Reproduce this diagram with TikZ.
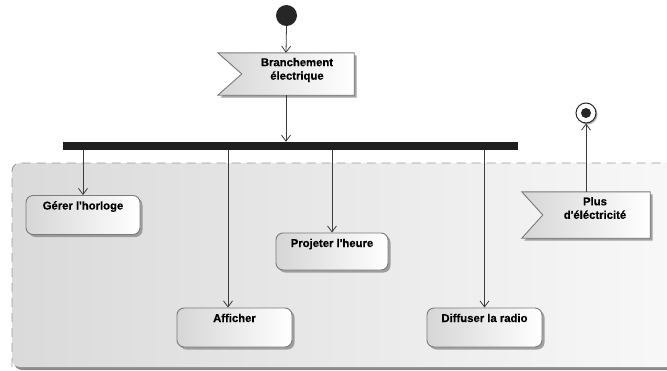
\documentclass[tikz,border=0pt]{standalone}
\usepackage{fontspec}
\setmainfont{Liberation Sans}[Ligatures=TeXOff, BoldFeatures={FakeBold=0.5}]
\usetikzlibrary{arrows.meta,shadows,calc}
\definecolor{edgegray}{HTML}{7A7A7A}
\definecolor{linegray}{HTML}{3C3C3C}
\definecolor{boxleft}{HTML}{D6D6D6}
\definecolor{regleft}{HTML}{DADADA}
\definecolor{regright}{HTML}{F9F9F9}
\definecolor{shadowgray}{HTML}{8C8C8C}
\tikzset{
  lbl/.style={font=\fontsize{11.3}{13.5}\selectfont\bfseries},
  actionbox/.style={draw=edgegray, line width=0.9pt, rounded corners=7pt,
    left color=boxleft, right color=white, inner sep=0pt,
    lbl, text height=14pt, text depth=25pt,
    drop shadow={shadow xshift=2.5pt, shadow yshift=-2.5pt, fill=shadowgray, opacity=0.8}},
  sigframe/.style={inner sep=0pt, draw=none},
  sigshape/.style={draw=edgegray, line width=0.9pt,
    left color=boxleft, right color=white,
    drop shadow={shadow xshift=2.5pt, shadow yshift=-2.5pt, fill=shadowgray, opacity=0.8}},
  sigtext/.style={lbl, align=center, inner sep=0pt},
  flow/.style={draw=linegray, line width=0.8pt, -{Straight Barb[length=6pt,width=9pt]}},
}
\begin{document}
\begin{tikzpicture}[x=1pt,y=-1pt]
\useasboundingbox (0,0) rectangle (667,370);
% region
\begin{scope}
\clip (0,0) rectangle (667,370);
\path[fill=shadowgray, rounded corners=8pt] (14,166) rectangle (700,370);
\path[left color=regleft, right color=regright, rounded corners=8pt] (12,163) rectangle (698,367);
\draw[draw=gray!80, line width=0.9pt, dash pattern=on 9pt off 6pt, rounded corners=8pt] (12,367) -- (12,163) -- (698,163);
\end{scope}
% initial node
\node[circle, fill=black!85, minimum size=21pt, inner sep=0pt] (init) at (286.5,15.5) {};
% accept event: Branchement electrique
\node[sigframe, minimum width=136pt, minimum height=42pt] (br) at (286,74) {};
\path[sigshape] (br.north west) -- (br.north east) -- (br.south east) -- (br.south west) -- ([xshift=24pt]br.west) -- cycle;
\node[sigtext] (brt) at (297,70) {Branchement\\électrique};
% fork bar
\node[fill=black!88, minimum width=455pt, minimum height=8pt, inner sep=0pt] (bar) at (290.5,146) {};
% actions
\node[actionbox, minimum width=114pt] (ger) at (83,215) {Gérer l'horloge};
\node[actionbox, minimum width=112pt, text depth=23pt] (pro) at (332,251.5) {Projeter l'heure};
\node[actionbox, minimum width=115pt] (aff) at (234.5,327.5) {Afficher};
\node[actionbox, minimum width=115pt] (dif) at (484.5,327.5) {Diffuser la radio};
% accept event: Plus d'electricite
\node[sigframe, minimum width=128pt, minimum height=46pt] (pl) at (586,215) {};
\path[sigshape] (pl.north west) -- (pl.north east) -- (pl.south east) -- (pl.south west) -- ([xshift=21pt]pl.west) -- cycle;
\node[sigtext] (plt) at (595,208) {Plus\\d'éléctricité};
% final node
\node[circle, draw=black!85, line width=1pt, fill=white, minimum size=20pt, inner sep=0pt,
  drop shadow={shadow xshift=1.5pt, shadow yshift=-1.5pt, fill=shadowgray, opacity=0.7}] (fin) at (586,113) {};
\node[circle, fill=black!85, minimum size=10pt, inner sep=0pt] (fini) at (fin.center) {};
% connectors
\draw[flow] (init.south) -- (br.north);
\draw[flow] (br.south) -- (bar.north -| br.south);
\draw[flow] (bar.south -| ger.north) -- (ger.north);
\draw[flow] (bar.south -| 228,0) -- (aff.north -| 228,0);
\draw[flow] (bar.south -| pro.north) -- (pro.north);
\draw[flow] (bar.south -| dif.north) -- (dif.north);
\draw[flow] (pl.north) -- (fin.south);
\end{tikzpicture}
\end{document}
